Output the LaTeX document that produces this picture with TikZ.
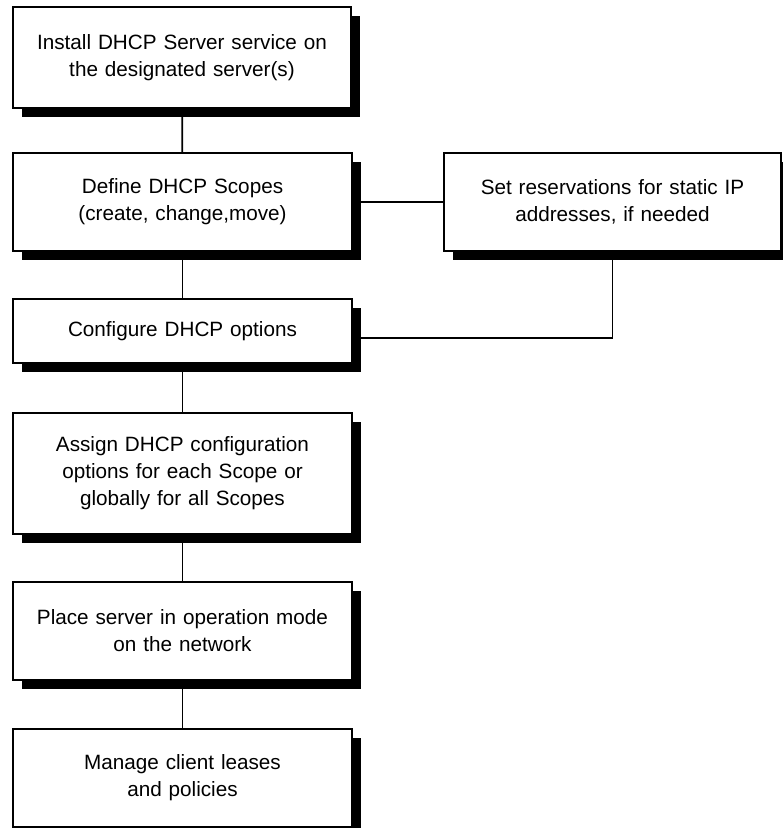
\documentclass[tikz,border=0pt]{standalone}
\usepackage{fontspec}
\setmainfont{Liberation Sans}
\usetikzlibrary{shadows,backgrounds}

\tikzset{
  stepbox/.style={
    draw=black, line width=1.5pt, fill=white,
    minimum width=339pt, minimum height=98pt,
    inner sep=0pt, outer sep=0pt,
    text width=334pt, align=center,
    font=\fontsize{20.7pt}{27pt}\selectfont,
    drop shadow={shadow xshift=9pt, shadow yshift=-9pt, fill=black, opacity=1}
  },
  link/.style={draw=black, line width=1.8pt}
}

\begin{document}
\begin{tikzpicture}[x=1pt,y=1pt]
  \useasboundingbox (0,0) rectangle (783,828);

  % main column of steps
  \node[stepbox, minimum width=338pt, minimum height=101pt] (install) at (182,770.5)
    {Install DHCP Server service on\\the designated server(s)};
  \node[stepbox] (define) at (182.5,626)
    {Define DHCP Scopes\\(create, change,move)};
  \node[stepbox, minimum height=64pt] (config) at (182.5,497)
    {Configure DHCP options};
  \node[stepbox, minimum height=121pt] (assign) at (182.5,354.5)
    {Assign DHCP configuration\\options for each Scope or\\globally for all Scopes};
  \node[stepbox] (place) at (182.5,197)
    {Place server in operation mode\\on the network};
  \node[stepbox] (manage) at (182.5,50)
    {Manage client leases\\and policies};

  % side step
  \node[stepbox, minimum width=337pt] (resv) at (612.5,626)
    {Set reservations for static IP\\addresses, if needed};

  % connectors
  \begin{scope}[on background layer]
    \draw[link] (install.center) -- (define.center);
    \draw[link] (define.center) -- (config.center);
    \draw[link] (config.center) -- (assign.center);
    \draw[link] (assign.center) -- (place.center);
    \draw[link] (place.center) -- (manage.center);
    \draw[link] (define.center) -- (resv.center);
    \draw[link] (resv.center) |- ([yshift=-7pt]config.center);
  \end{scope}
\end{tikzpicture}
\end{document}
